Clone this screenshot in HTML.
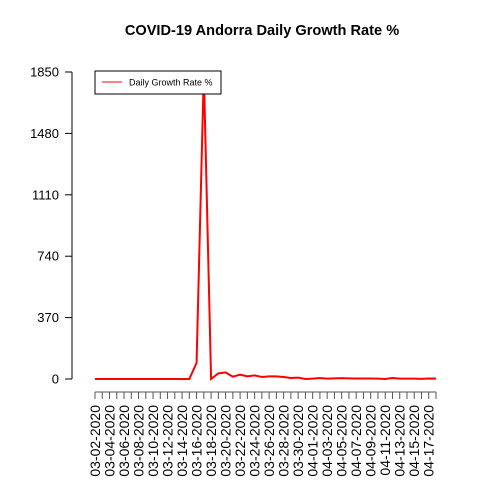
<!DOCTYPE html>
<html><head><meta charset="utf-8"><style>
body{margin:0;background:#fff}
svg{font-family:"Liberation Sans",sans-serif}
</style></head><body>
<svg id="c" width="480" height="480">
<text x="262" y="35" text-anchor="middle" font-size="14.6" font-weight="bold">COVID-19 Andorra Daily Growth Rate %</text>
<g id="axes"></g>
<g>
<rect x="95" y="71" width="126" height="23" fill="#fff" stroke="#000" stroke-width="1"/>
<line x1="102" y1="82" x2="122" y2="82" stroke="red" stroke-width="1"/>
<text x="129" y="85.5" font-size="9">Daily Growth Rate %</text>
</g>
</svg>
<script>
const dates=[];
const yTicks=[0,370,740,1110,1480,1850];
const values=[0,0,0,0,0,0,0,0,0,0,0,0,0,0,97,1850,0,34,40,14,26,16,22,12,16,16,12,6,8,0,2,6,2,4,5,4,3,3,3,2,0,6,2,2,2,1,3,2];
(function(){const s=new Date(2020,2,2);for(let i=0;i<48;i++){const d=new Date(s);d.setDate(s.getDate()+i);dates.push(String(d.getMonth()+1).padStart(2,'0')+'-'+String(d.getDate()).padStart(2,'0')+'-2020');}})();
const NS='http://www.w3.org/2000/svg';
const g=document.getElementById('axes');
const x0=95,x1=436,y0=379,y1=72;
function xs(i){return x0+(x1-x0)*i/(dates.length-1);}
function ys(v){return y0-(y0-y1)*v/1850;}
function el(t,a){const e=document.createElementNS(NS,t);for(const k in a)e.setAttribute(k,a[k]);g.appendChild(e);return e;}
let ax=el('line',{x1:72,x2:72,y1:ys(0),y2:ys(1850),stroke:'#000'});


yTicks.forEach(v=>{
 const t=el('line',{x1:65,x2:72,y1:ys(v),y2:ys(v),stroke:'#000'});
 
 
 const l=el('text',{x:59,y:ys(v)+4.5,'text-anchor':'end','font-size':13});
 
 
 l.textContent=v;
});
let bx=el('line',{x1:x0,x2:x1,y1:392,y2:392,stroke:'#555'});


dates.forEach((d,i)=>{
 const t=el('line',{x1:xs(i),x2:xs(i),y1:392,y2:399,stroke:'#555'});
 
 
 if(i%2===0){
  const l=el('text',{x:0,y:0,'text-anchor':'end','font-size':14,transform:`translate(${xs(i)+5},405) rotate(-90)`});
  
  
  l.textContent=d;
 }
});
const p=el('polyline',{points:values.map((v,i)=>xs(i)+','+ys(v)).join(' '),fill:'none',stroke:'red','stroke-width':2});


</script>
</body></html>
